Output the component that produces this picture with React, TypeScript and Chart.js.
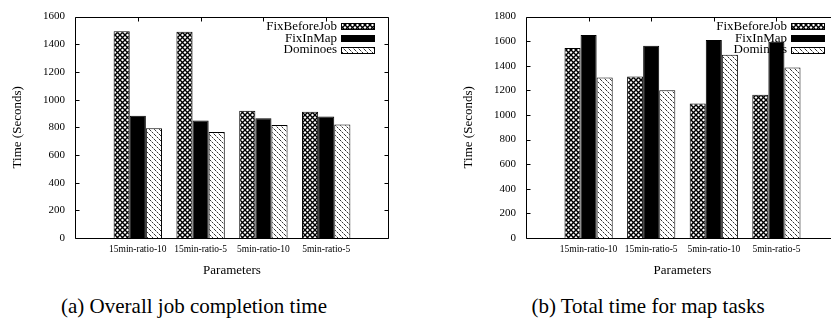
import React, { useEffect, useRef } from "react";
import { Chart, registerables } from "chart.js";

Chart.register(...registerables);

const FONT = "'Liberation Serif', 'Times New Roman', serif";

const categories = ["15min-ratio-10", "15min-ratio-5", "5min-ratio-10", "5min-ratio-5"];
const seriesNames = ["FixBeforeJob", "FixInMap", "Dominoes"];

// (a) Overall job completion time
const jobFixBeforeJob = [1495, 1490, 920, 913];
const jobFixInMap = [883, 850, 866, 878];
const jobDominoes = [794, 766, 817, 820];

// (b) Total time for map tasks
const mapFixBeforeJob = [1545, 1313, 1094, 1165];
const mapFixInMap = [1650, 1563, 1610, 1595];
const mapDominoes = [1305, 1202, 1489, 1386];

const jobYMax = 1600;
const mapYMax = 1800;
const yStep = 200;

const xTitle = "Parameters";
const yTitle = "Time (Seconds)";
const captionA = "(a) Overall job completion time";
const captionB = "(b) Total time for map tasks";

function makeCross(): CanvasPattern {
  const c = document.createElement("canvas");
  c.width = 5;
  c.height = 5;
  const g = c.getContext("2d")!;
  g.fillStyle = "#fff";
  g.fillRect(0, 0, 5, 5);
  g.strokeStyle = "#000";
  g.lineWidth = 1.4;
  g.beginPath();
  g.moveTo(-1, -1);
  g.lineTo(6, 6);
  g.moveTo(-1, 6);
  g.lineTo(6, -1);
  g.stroke();
  return g.createPattern(c, "repeat")!;
}

function makeDots(): CanvasPattern {
  const c = document.createElement("canvas");
  c.width = 5;
  c.height = 5;
  const g = c.getContext("2d")!;
  g.fillStyle = "#fff";
  g.fillRect(0, 0, 5, 5);
  for (let i = 0; i < 5; i++) {
    g.fillStyle = i % 2 === 0 ? "#333" : "#aaa";
    g.fillRect(i, i, 1, 1);
  }
  return g.createPattern(c, "repeat")!;
}

function framePlugin() {
  return {
    id: "frameLegend",
    beforeDatasetsDraw(chart: any) {
      const { ctx, chartArea: a } = chart;
      ctx.save();
      ctx.font = `13px ${FONT}`;
      ctx.textAlign = "right";
      ctx.textBaseline = "middle";
      chart.data.datasets.forEach((ds: any, i: number) => {
        const y = a.top + 10 + i * 11.7;
        ctx.fillStyle = "#000";
        ctx.fillText(ds.label, a.right - 52, y);
        const top = Math.round(y - 3.5);
        ctx.fillStyle = ds.backgroundColor;
        ctx.fillRect(a.right - 48, top, 34, 7);
        ctx.strokeStyle = "#000";
        ctx.lineWidth = 1;
        ctx.strokeRect(a.right - 48 + 0.5, top + 0.5, 33, 6);
      });
      ctx.restore();
    },
    afterDatasetsDraw(chart: any) {
      const { ctx, chartArea: a } = chart;
      const L = Math.round(a.left) + 0.5;
      const R = Math.round(a.right) - 0.5;
      const T = Math.round(a.top) + 0.5;
      const B = Math.round(a.bottom) + 0.5;
      ctx.save();
      ctx.strokeStyle = "#000";
      ctx.lineWidth = 1;
      ctx.beginPath();
      ctx.moveTo(L, T);
      ctx.lineTo(R, T);
      ctx.lineTo(R, B);
      ctx.lineTo(L, B);
      ctx.closePath();
      const ys = chart.scales.y;
      ys.ticks.forEach((t: any) => {
        const y = Math.round(ys.getPixelForValue(t.value)) + 0.5;
        ctx.moveTo(L, y);
        ctx.lineTo(L + 4, y);
        ctx.moveTo(R, y);
        ctx.lineTo(R - 4, y);
      });
      const xs = chart.scales.x;
      for (let i = 1; i <= categories.length; i++) {
        const x = Math.round(xs.getPixelForValue(i)) + 0.5;
        ctx.moveTo(x, T);
        ctx.lineTo(x, T + 4);
        ctx.moveTo(x, B);
        ctx.lineTo(x, B - 4);
      }
      ctx.stroke();
      ctx.restore();
    },
  };
}

function makeChart(canvas: HTMLCanvasElement, values: number[][], yMax: number, padRight: number) {
  const patterns = [makeCross(), "#000", makeDots()];
  const labels = ["", ...categories, ""];
  return new Chart(canvas, {
    type: "bar",
    data: {
      labels,
      datasets: seriesNames.map((name, i) => ({
        label: name,
        data: [null, ...values[i], null],
        backgroundColor: patterns[i] as any,
        borderColor: "#000",
        borderWidth: 1,
        barPercentage: 1,
        categoryPercentage: 0.77,
      })),
    },
    options: {
      responsive: false,
      animation: false,
      devicePixelRatio: 1,
      layout: { padding: { left: 0, right: padRight, top: 5.4, bottom: 0 } },
      plugins: {
        legend: { display: false },
        tooltip: { enabled: false },
      },
      scales: {
        x: {
          offset: false,
          grid: { display: false, drawTicks: false },
          border: { display: false },
          ticks: {
            color: "#000",
            font: { family: FONT, size: 9.5 },
            padding: 6,
            maxRotation: 0,
            autoSkip: false,
          },
          title: {
            display: true,
            text: xTitle,
            color: "#000",
            font: { family: FONT, size: 13 },
            padding: { top: 0, bottom: 7 },
          },
          afterFit: (s: any) => {
            s.height = 47;
          },
        },
        y: {
          min: 0,
          max: yMax,
          grid: { display: false, drawTicks: false },
          border: { display: false },
          ticks: {
            stepSize: yStep,
            color: "#000",
            font: { family: FONT, size: 11 },
            padding: 10,
            callback: (v: any) => String(v),
          },
          title: {
            display: true,
            text: yTitle,
            color: "#000",
            font: { family: FONT, size: 13 },
            padding: { top: 10, bottom: 0 },
          },
          afterFit: (s: any) => {
            s.width = 75;
          },
        },
      },
    },
    plugins: [framePlugin()],
  } as any);
}

const captionStyle: React.CSSProperties = {
  position: "absolute",
  top: 294,
  textAlign: "center",
  fontSize: 21,
  lineHeight: "24px",
  whiteSpace: "nowrap",
};

export default function App() {
  const leftRef = useRef<HTMLCanvasElement>(null);
  const rightRef = useRef<HTMLCanvasElement>(null);

  useEffect(() => {
    const c1 = makeChart(leftRef.current!, [jobFixBeforeJob, jobFixInMap, jobDominoes], jobYMax, 26);
    const c2 = makeChart(rightRef.current!, [mapFixBeforeJob, mapFixInMap, mapDominoes], mapYMax, 12);
    return () => {
      c1.destroy();
      c2.destroy();
    };
  }, []);

  return (
    <div
      style={{
        position: "absolute",
        left: 0,
        top: 0,
        width: 831,
        height: 324,
        overflow: "hidden",
        background: "#fff",
        fontFamily: FONT,
      }}
    >
      <canvas ref={leftRef} width={415} height={285} style={{ position: "absolute", left: 0, top: 0 }} />
      <canvas ref={rightRef} width={400} height={285} style={{ position: "absolute", left: 451, top: 0 }} />
      <div style={{ ...captionStyle, left: 0, width: 388 }}>{captionA}</div>
      <div style={{ ...captionStyle, left: 448, width: 400 }}>{captionB}</div>
    </div>
  );
}
